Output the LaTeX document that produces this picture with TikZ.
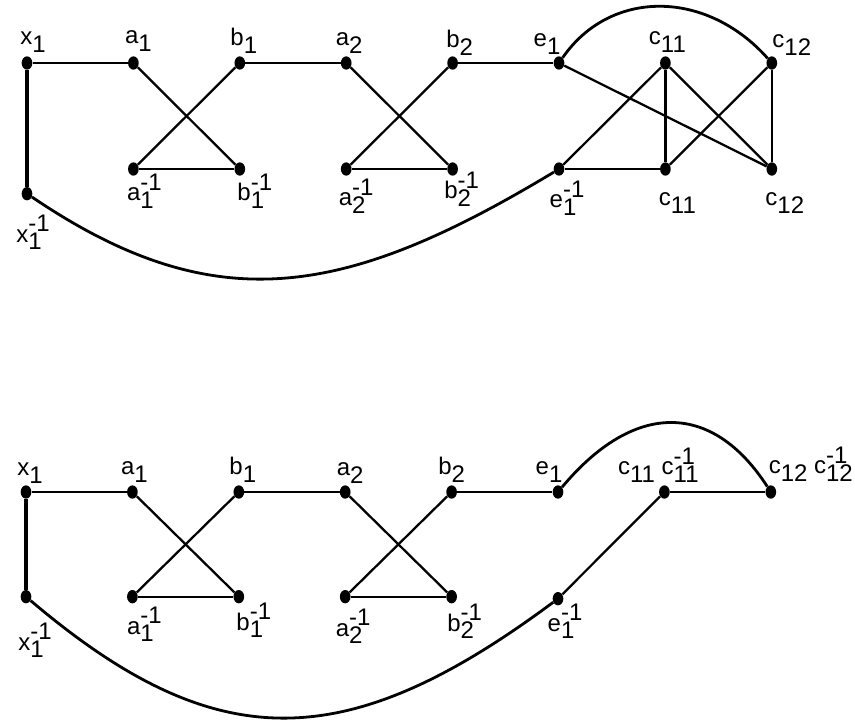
\documentclass[tikz,border=0pt]{standalone}
\usepackage{fontspec}
\setmainfont{Liberation Sans}
\usetikzlibrary{positioning,shapes.geometric}
\newcommand\sub[2]{#1\raisebox{-0.33em}{#2}}
\newcommand\inv[2]{#1\rlap{\raisebox{0.42em}{-1}}\raisebox{-0.33em}{#2}}
\begin{document}
\begin{tikzpicture}[x=0.75pt,y=-0.75pt,on grid,node distance=79.5pt and 79.8pt,
  dot/.style={ellipse,fill,minimum width=8pt,minimum height=10pt,inner sep=0pt},
  every label/.style={font=\fontsize{18}{21}\selectfont,inner sep=0pt},
  edge/.style={line width=1.7pt},heavy/.style={line width=2.4pt},arcline/.style={line width=2.1pt}]
\useasboundingbox (0,0) rectangle (855,719);
\node[dot,label={[shift={(6,-21)}]center:\sub{x}{1}}] (x1) at (27,63) {};
\node[dot,right=of x1,label={[shift={(5,-22)}]center:\sub{a}{1}}] (a1) {};
\node[dot,right=of a1,label={[shift={(4,-22)}]center:\sub{b}{1}}] (b1) {};
\node[dot,right=of b1,label={[shift={(3,-20)}]center:\sub{a}{2}}] (a2) {};
\node[dot,right=of a2,label={[shift={(7,-20)}]center:\sub{b}{2}}] (b2) {};
\node[dot,right=of b2,label={[shift={(-12,-19)}]center:\sub{e}{1}}] (e1) {};
\node[dot,right=of e1,label={[shift={(2,-21)}]center:\sub{c}{11}}] (c11) {};
\node[dot,right=of c11,label={[shift={(20,-18)}]center:\sub{c}{12}}] (c12) {};
\node[dot,below=98pt of x1,label={[shift={(2,39)}]center:\inv{x}{1}}] (x1i) {};
\node[dot,below=of a1,label={[shift={(7,22)}]center:\inv{a}{1}}] (a1i) {};
\node[dot,below=of b1,label={[shift={(11,22)}]center:\inv{b}{1}}] (b1i) {};
\node[dot,below=of a2,label={[shift={(6,27)}]center:\inv{a}{2}}] (a2i) {};
\node[dot,below=of b2,label={[shift={(5,20)}]center:\inv{b}{2}}] (b2i) {};
\node[dot,below=of e1,label={[shift={(4,29)}]center:\inv{e}{1}}] (e1i) {};
\node[dot,below=of c11,label={[shift={(12,34)}]center:\sub{c}{11}}] (c11b) {};
\node[dot,below=of c12,label={[shift={(13,34)}]center:\sub{c}{12}}] (c12b) {};
\draw[edge] (x1)--(a1);\draw[edge] (a1)--(b1i);\draw[edge] (b1)--(a1i);\draw[edge] (a1i)--(b1i);
\draw[edge] (b1)--(a2);\draw[edge] (a2)--(b2i);\draw[edge] (b2)--(a2i);\draw[edge] (a2i)--(b2i);
\draw[edge] (b2)--(e1);\draw[edge] (e1)--(c12b);\draw[edge] (e1i)--(c11);\draw[edge] (e1i)--(c11b);
\draw[edge] (c11)--(c11b);\draw[edge] (c11)--(c12b);\draw[edge] (c11b)--(c12);\draw[edge] (c12)--(c12b);
\draw[heavy] (x1)--(x1i);
\draw[arcline] (x1i) .. controls (215,321) and (345,298) .. (e1i);
\draw[arcline] (e1) .. controls (610,-11) and (706,-11) .. (c12);
\node[dot,label={[shift={(4,-19)}]center:\sub{x}{1}}] (X1) at (26,492) {};
\node[dot,right=of X1,label={[shift={(2,-20)}]center:\sub{a}{1}}] (A1) {};
\node[dot,right=of A1,label={[shift={(4,-22)}]center:\sub{b}{1}}] (B1) {};
\node[dot,right=of B1,label={[shift={(5,-19)}]center:\sub{a}{2}}] (A2) {};
\node[dot,right=of A2,label={[shift={(0,-22)}]center:\sub{b}{2}}] (B2) {};
\node[dot,right=of B2,label={[shift={(-9,-20)}]center:\sub{e}{1}}] (E1) {};
\node[dot,right=of E1,label={[shift={(-6,-27)}]center:\sub{c}{11} \inv{c}{11}}] (C11) {};
\node[dot,right=of C11,label={[shift={(40,-28)}]center:\sub{c}{12} \inv{c}{12}}] (C12) {};
\node[dot,below=78.5pt of X1,label={[shift={(5,44)}]center:\inv{x}{1}}] (X1i) {};
\node[dot,below=78.5pt of A1,label={[shift={(8,28)}]center:\inv{a}{1}}] (A1i) {};
\node[dot,below=78.5pt of B1,label={[shift={(11,24)}]center:\inv{b}{1}}] (B1i) {};
\node[dot,below=78.5pt of A2,label={[shift={(4,30)}]center:\inv{a}{2}}] (A2i) {};
\node[dot,below=78.5pt of B2,label={[shift={(9,25)}]center:\inv{b}{2}}] (B2i) {};
\node[dot,below=80pt of E1,label={[shift={(3,23)}]center:\inv{e}{1}}] (E1i) {};
\draw[edge] (X1)--(A1);\draw[edge] (A1)--(B1i);\draw[edge] (B1)--(A1i);\draw[edge] (A1i)--(B1i);
\draw[edge] (B1)--(A2);\draw[edge] (A2)--(B2i);\draw[edge] (B2)--(A2i);\draw[edge] (A2i)--(B2i);
\draw[edge] (B2)--(E1);\draw[edge] (E1i)--(C11);\draw[edge] (C11)--(C12);
\draw[heavy] (X1)--(X1i);
\draw[arcline] (X1i) .. controls (215,757) and (345,757) .. (E1i);
\draw[arcline] (E1) .. controls (634,401) and (712,401) .. (C12);
\end{tikzpicture}
\end{document}
